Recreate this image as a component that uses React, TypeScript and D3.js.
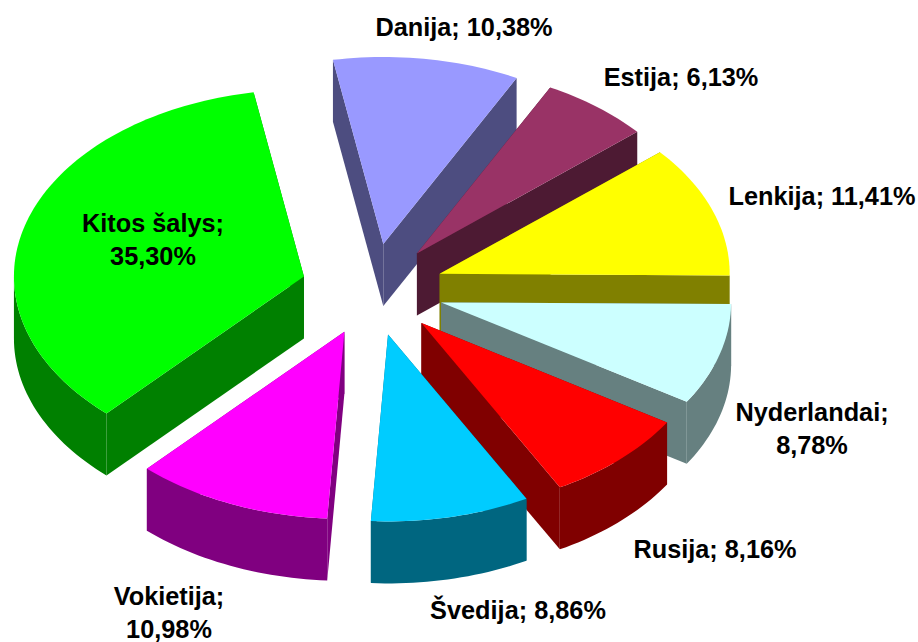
import React from "react";
import * as d3 from "d3";

const categories = ["Danija", "Estija", "Lenkija", "Nyderlandai", "Rusija", "Švedija", "Vokietija", "Kitos šalys"];
const shares = [10.38, 6.13, 11.41, 8.78, 8.16, 8.86, 10.98, 35.3];
const topColors = ["#9999ff", "#993366", "#ffff00", "#ccffff", "#ff0000", "#00ccff", "#ff00ff", "#00ff00"];
const sideColors = ["#4d4d80", "#4d1a33", "#808000", "#668080", "#800000", "#006680", "#800080", "#008000"];
const labelLines = [
  ["Danija; 10,38%"],
  ["Estija; 6,13%"],
  ["Lenkija; 11,41%"],
  ["Nyderlandai;", "8,78%"],
  ["Rusija; 8,16%"],
  ["Švedija; 8,86%"],
  ["Vokietija;", "10,98%"],
  ["Kitos šalys;", "35,30%"],
];
const labelAnchors: [number, number][] = [
  [464, 36], [681, 86], [822, 205], [812, 421], [715, 558], [518, 619], [169, 605], [153, 232],
];

const W = 918, H = 642;
const cx = 372.5, cy = 289.5, rx = 290, ry = 187, depth = 62;
const explodeX = 71.5, explodeY = 46;
const startDeg = -10;

const xOf = (t: number) => Math.sin(t);
const yOf = (t: number) => -Math.cos(t);

export default function App() {
  const pie = d3.pie<number>().sort(null).startAngle((startDeg * Math.PI) / 180).endAngle(((startDeg + 360) * Math.PI) / 180);
  const arcs = pie(shares);
  const sx = d3.scaleLinear().domain([-1, 1]).range([-rx, rx]);
  const sy = d3.scaleLinear().domain([-1, 1]).range([-ry, ry]);
  const slices = arcs.map((a, i) => {
    const mid = (a.startAngle + a.endAngle) / 2;
    const ax = cx + (explodeX * xOf(mid));
    const ay = cy + (explodeY * yOf(mid));
    const n = Math.max(4, Math.ceil((a.endAngle - a.startAngle) * 40));
    const ts = d3.range(n + 1).map((k) => a.startAngle + ((a.endAngle - a.startAngle) * k) / n);
    const pt = (t: number): [number, number] => [ax + sx(xOf(t)), ay + sy(yOf(t))];
    const line = d3.line();
    const top = line([[ax, ay], ...ts.map(pt)]) + "Z";
    const p0 = pt(a.startAngle), p1 = pt(a.endAngle);
    const down = (p: [number, number]): [number, number] => [p[0], p[1] + depth];
    const wallA = line([[ax, ay], p0, down(p0), [ax, ay + depth]]) + "Z";
    const wallB = line([[ax, ay], p1, down(p1), [ax, ay + depth]]) + "Z";
    const front = ts.filter((t) => Math.cos(t) <= 0.02);
    const rim = front.length > 1 ? line([...front.map(pt), ...front.slice().reverse().map((t) => down(pt(t)))]) + "Z" : null;
    return { i, mid, top, wallA, wallB, rim };
  });
  const order = slices.slice().sort((a, b) => Math.cos(b.mid) - Math.cos(a.mid));
  return (
    <svg width={W} height={H} viewBox={`0 0 ${W} ${H}`} style={{ position: "absolute", left: 0, top: 0, background: "#fff" }}>
      {order.map((s) => (
        <g key={s.i}>
          <path d={s.wallA} fill={sideColors[s.i]} />
          <path d={s.wallB} fill={sideColors[s.i]} />
          {s.rim && <path d={s.rim} fill={sideColors[s.i]} />}
          <path d={s.top} fill={topColors[s.i]} />
        </g>
      ))}
      {categories.map((c, i) => (
        <text key={c} fontFamily="'Liberation Sans', Arial, sans-serif" fontWeight="bold" fontSize={25.3} fill="#000" textAnchor="middle" x={labelAnchors[i][0]} y={labelAnchors[i][1]}>
          {labelLines[i].map((l, k) => (
            <tspan key={k} x={labelAnchors[i][0]} dy={k === 0 ? 0 : 33}>{l}</tspan>
          ))}
        </text>
      ))}
    </svg>
  );
}
